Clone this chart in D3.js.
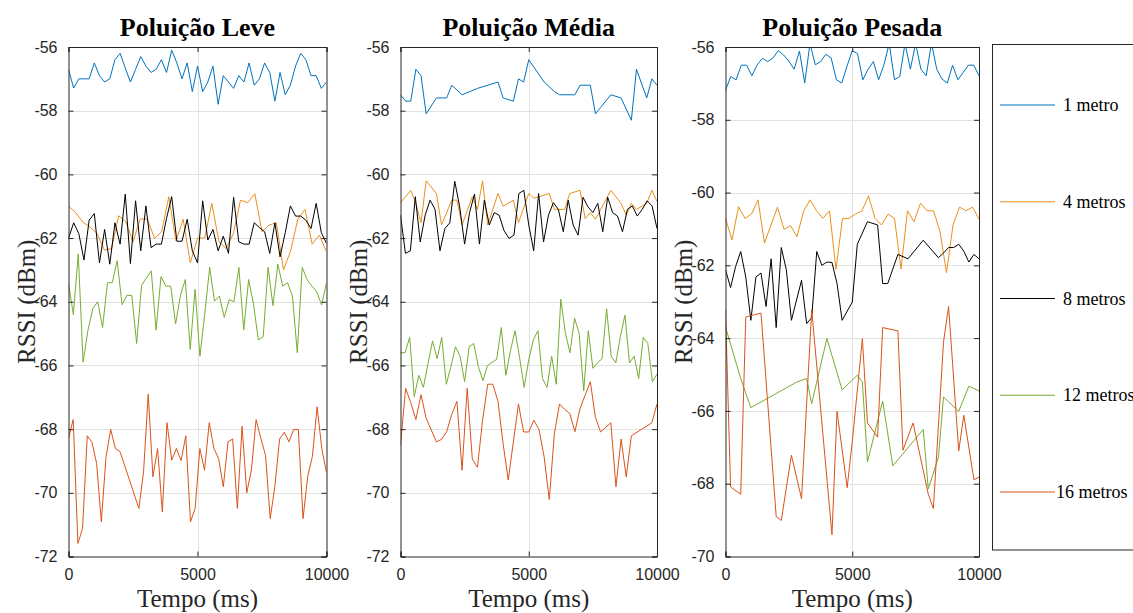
<!DOCTYPE html>
<html>
<head>
<meta charset="utf-8">
<script src="https://cdn.jsdelivr.net/npm/d3@7"></script>
<style>
  html, body { margin: 0; padding: 0; background: #fff; }
  svg { display: block; }
</style>
</head>
<body>
<svg id="chart" width="1133" height="613"></svg>
<script>
// ---------------- DATA ----------------
const TITLES = ["Poluição Leve", "Poluição Média", "Poluição Pesada"];
const SERIES_NAMES = ["1 metro", "4 metros", "8 metros", "12 metros", "16 metros"];
const SERIES_COLORS = ["#0072BD", "#EB8F1C", "#000000", "#77AC30", "#D95319"];
const X_TICKS = [0, 5000, 10000];
const X_DOMAIN = [0, 10000];
const Y_TICKS_LEVE = [-72, -70, -68, -66, -64, -62, -60, -58, -56];
const Y_TICKS_MEDIA = [-72, -70, -68, -66, -64, -62, -60, -58, -56];
const Y_TICKS_PESADA = [-70, -68, -66, -64, -62, -60, -58, -56];
const X_LABEL = "Tempo (ms)";
const Y_LABEL = "RSSI (dBm)";

// Samples are evenly spaced over 0–10000 ms; null = no sample drawn at that slot
const leve_1m = [-56.71,-57.29,-57.0,-57.0,-57.0,-56.5,-56.9,-57.1,-57.0,-56.4,-56.2,-56.66,-57.1,-56.7,-56.3,-56.6,-56.8,-56.7,-56.4,-56.8,-56.1,-56.5,-57.0,-56.5,-57.4,-56.6,-57.4,-57.1,-56.6,-57.8,-56.9,-57.1,-57.3,-56.9,-57.1,-56.5,-57.2,-57.0,-56.5,-56.8,-57.7,-56.8,-57.5,-57.2,-56.6,-56.2,-56.4,-56.9,-56.9,-57.3,-57.1];
const leve_4m = [-61.0,-61.2,-61.5,-61.65,-61.86,-62.38,-62.33,-61.3,-61.49,-62.12,-61.4,-61.4,-62.01,-61.8,-60.7,-62.09,-61.41,-62.78,-62.0,-62.0,-60.91,-62.12,-62.33,-61.86,-60.81,-60.89,-60.61,-61.8,-61.59,-61.52,-63.0,-62.4,-61.4,-61.1,-62.19,-61.91,-62.43];
const leve_8m = [-62.01,-61.52,-61.86,-62.69,-61.44,-61.23,-62.78,-61.73,-62.82,-61.52,-62.19,-60.62,-62.8,-60.83,-62.40,-60.99,-62.30,-62.19,-62.19,-61.38,-60.70,-62.10,-62.10,-61.41,-62.40,-62.78,-60.83,-62.06,-61.73,-62.40,-61.94,-62.48,-60.72,-62.12,-62.19,-62.19,-61.52,-61.67,-61.80,-62.48,-61.52,-62.59,-61.83,-60.99,-61.31,-61.31,-61.44,-61.70,-60.91,-61.83,-62.17];
const leve_12m = [-63.42,-64.40,-62.50,-65.90,-64.89,-64.21,-64.0,-64.81,-63.40,-63.40,-62.71,-64.09,-63.80,-63.80,-65.31,-63.49,-63.25,-63.03,-64.89,-63.21,-63.51,-63.51,-64.70,-63.79,-63.30,-65.50,-63.61,-65.71,-64.37,-62.92,-63.98,-63.82,-64.49,-63.93,-64.0,-62.92,-64.89,-63.30,-64.07,-65.20,-65.10,-62.92,-64.12,-62.82,-63.51,-63.40,-63.82,-65.60,-62.92,-63.30,-63.51,-63.69,-64.10,-63.40];
const leve_16m = [-68.29,-67.70,-71.59,-71.12,-68.21,-68.42,-69.08,-70.91,-68.87,-68.01,-68.61,-68.71,null,null,null,-70.49,-69.34,-66.90,-69.50,-68.61,-70.60,-67.80,-68.97,-68.61,-68.99,-68.21,-70.91,-70.49,-68.61,-69.29,-67.80,-68.61,-68.92,-69.81,-68.40,-68.31,-70.49,-67.91,-70.0,-69.27,-67.70,-68.29,-68.82,-70.81,-69.79,-68.31,-68.10,-68.40,-68.01,-68.01,-70.81,-69.48,-68.85,-67.30,-68.61,-69.37];

const media_1m = [-57.5,-57.7,-57.7,-56.7,-56.9,-58.1,null,-57.6,null,-57.6,-57.2,null,-57.5,null,null,-57.3,null,null,null,-57.1,-57.6,null,-57.7,-57.0,-57.1,-56.4,null,null,-57.1,null,-57.4,-57.5,null,null,-57.5,-57.2,null,-57.2,-58.1,-57.9,null,-57.5,null,-57.6,null,-58.3,-56.7,null,-57.6,-57.0,-57.2];
const media_4m = [-60.89,-60.70,-60.50,-60.91,-61.52,-60.20,null,-60.60,-61.59,null,-60.81,-60.81,-61.59,null,-60.70,-61.10,-60.20,-61.59,null,-60.60,-61.00,null,-60.81,-61.52,null,-60.60,-60.75,null,null,-60.60,-61.10,null,-61.10,-60.60,null,-60.50,-61.39,-61.20,-61.41,null,null,-60.50,null,-60.91,-61.28,-60.91,-61.10,null,-60.91,-60.50,-60.85];
const media_8m = [-61.28,-62.48,-62.40,-60.70,-62.12,-61.28,-60.81,-61.10,-62.40,-61.70,-61.52,-60.22,-61.02,-62.19,-61.20,-60.62,-62.19,-60.81,-61.59,-61.20,-61.28,-61.77,-62.01,-61.91,-60.60,-60.50,-61.59,-62.40,-60.60,-62.12,-61.28,-60.89,-61.10,-61.80,-60.81,-61.59,-61.91,-60.72,-61.02,-61.20,-60.91,-61.80,-60.72,-61.20,-61.31,-61.80,-61.10,-60.99,-61.31,-61.10,-60.83,-60.99,-61.70];
const media_12m = [-65.60,-65.60,-65.12,-66.98,-66.31,-66.69,-65.94,-65.23,-65.79,-65.12,-66.59,-66.04,-65.41,-65.71,-66.51,-65.41,-65.31,-66.04,-66.48,-66.0,-65.90,-65.81,-64.81,-66.31,-65.54,-64.91,-65.75,-66.69,-65.81,-65.20,-64.91,-66.41,-66.69,-65.71,-66.59,-63.92,-64.99,-65.60,-64.52,-64.99,-66.80,-64.91,-66.09,-65.92,-65.79,-64.22,-65.71,-65.92,-65.10,-64.42,-65.92,-65.71,-66.41,-65.12,-65.31,-66.51,-66.27];
const media_16m = [-68.50,-66.72,-67.17,-67.70,-66.92,-67.66,null,-68.40,-68.32,-68.08,-67.53,-67.13,-69.29,-66.72,-68.94,-69.20,-67.72,-66.59,-66.59,-67.13,-68.45,-69.60,null,-67.21,-68.09,-68.09,-67.72,-68.01,-68.87,-70.21,-68.14,-67.21,-67.38,-67.51,-68.08,-67.35,null,-66.51,-67.63,-68.09,null,-67.80,-69.81,-68.31,-69.50,-68.21,null,null,null,-67.80,-67.21];

const pesada_1m = [-57.19,-56.81,-56.90,-56.50,-56.50,-56.79,-56.49,-56.31,-56.40,-56.30,-56.10,-56.22,-56.39,-56.61,-56.11,-56.99,-55.9,-56.49,-56.40,-56.20,-56.30,-56.90,-56.99,-56.53,-56.10,-56.18,-56.90,-56.61,-56.40,-56.90,-56.49,-55.9,-56.90,-56.81,-55.9,-56.61,-55.9,-56.61,-56.79,-55.9,-56.61,-56.88,-56.99,-56.50,-56.90,-56.70,-56.50,-56.50,-56.79];
const pesada_4m = [-60.71,-61.30,-60.39,-60.71,-60.59,-60.20,-61.39,-60.89,-60.40,-61.01,-60.91,-61.21,-60.52,-60.20,-60.50,-60.71,-60.50,-62.11,-60.71,-60.71,-60.59,-60.50,-60.09,-60.71,-60.89,-60.59,-60.71,-62.10,-60.50,-60.80,-60.29,-60.50,-60.50,-61.07,-62.20,-60.89,-60.40,-60.50,-60.40,-60.73];
const pesada_8m = [-62.12,-62.61,-62.03,-61.62,-62.32,-63.51,-62.32,-62.21,-63.13,-61.82,-63.71,-61.51,-62.12,-63.51,null,-62.41,-63.60,-63.44,-61.62,-62.0,-61.91,-61.92,-62.50,-63.51,null,-63.01,-61.42,null,-60.80,null,-60.89,-62.50,-62.50,null,-61.70,null,-61.82,null,null,-61.31,null,null,-61.79,-61.66,-61.51,-61.51,-61.42,-61.61,-61.91,-61.70,-61.82];
const pesada_12m = [-63.69,null,null,-65.11,null,-65.91,null,null,null,null,null,null,null,null,-65.21,null,-65.11,-65.80,null,null,-64.01,null,null,-65.42,null,null,-65.02,-65.21,-67.40,null,null,-65.73,null,-67.51,null,null,null,null,null,-66.51,-68.14,null,-67.27,-65.62,null,null,-66.01,null,-65.32,null,-65.45];
const pesada_16m = [-63.22,-68.09,null,-68.29,-63.42,null,null,-63.31,null,null,-68.90,-69.01,null,-67.22,null,-68.41,null,-63.22,null,null,null,-69.40,-66.01,null,-68.11,-66.85,null,-64.01,-66.33,null,-66.72,-63.71,null,null,-63.80,-67.08,null,-66.33,null,null,-68.29,-68.68,null,-64.11,-63.13,null,-67.10,-66.12,null,-67.89,-67.82];

// ---------------- LAYOUT ----------------
const svg = d3.select("#chart");
const TOP = 47, BOTTOM = 556.5;
const INK = "#262626";
const panels = [
  { title: TITLES[0], x0: 68.5,  x1: 326.5, yDomain: [-72, -56], yTicks: Y_TICKS_LEVE,   series: [leve_1m, leve_4m, leve_8m, leve_12m, leve_16m] },
  { title: TITLES[1], x0: 400.5, x1: 657,   yDomain: [-72, -56], yTicks: Y_TICKS_MEDIA,  series: [media_1m, media_4m, media_8m, media_12m, media_16m] },
  { title: TITLES[2], x0: 725.5, x1: 979,   yDomain: [-70, -56], yTicks: Y_TICKS_PESADA, series: [pesada_1m, pesada_4m, pesada_8m, pesada_12m, pesada_16m] }
];

const defs = svg.append("defs");

panels.forEach((p, pi) => {
  const x = d3.scaleLinear().domain(X_DOMAIN).range([p.x0, p.x1]);
  const y = d3.scaleLinear().domain(p.yDomain).range([BOTTOM, TOP]);
  const g = svg.append("g");

  defs.append("clipPath").attr("id", "clip" + pi)
    .append("rect").attr("x", p.x0).attr("y", TOP).attr("width", p.x1 - p.x0).attr("height", BOTTOM - TOP);

  // grid
  g.append("g").selectAll("line").data(p.yTicks.filter(v => v !== p.yDomain[0] && v !== p.yDomain[1]))
    .join("line")
    .attr("x1", p.x0).attr("x2", p.x1)
    .attr("y1", d => Math.round(y(d)) + 0.5).attr("y2", d => Math.round(y(d)) + 0.5)
    .attr("stroke", "#e2e2e2").attr("stroke-width", 1);
  g.append("g").selectAll("line").data(X_TICKS.filter(v => v !== X_DOMAIN[0] && v !== X_DOMAIN[1]))
    .join("line")
    .attr("x1", d => Math.round(x(d)) + 0.5).attr("x2", d => Math.round(x(d)) + 0.5)
    .attr("y1", TOP).attr("y2", BOTTOM)
    .attr("stroke", "#e2e2e2").attr("stroke-width", 1);

  // series
  const line = d3.line().x(d => x(d.t)).y(d => y(d.v));
  const lg = g.append("g").attr("clip-path", `url(#clip${pi})`);
  p.series.forEach((vals, si) => {
    const n = vals.length;
    const pts = vals.map((v, i) => ({ t: X_DOMAIN[0] + i * (X_DOMAIN[1] - X_DOMAIN[0]) / (n - 1), v }))
                    .filter(d => d.v !== null);
    lg.append("path").datum(pts)
      .attr("d", line)
      .attr("fill", "none")
      .attr("stroke", SERIES_COLORS[si])
      .attr("stroke-width", 1)
      .attr("stroke-linejoin", "miter");
  });

  // axes (box with inward ticks)
  const axL = g.append("g").attr("transform", `translate(${p.x0},0)`)
    .call(d3.axisLeft(y).tickValues(p.yTicks).tickSize(-5).tickPadding(11).tickFormat(d3.format("d")));
  const axR = g.append("g").attr("transform", `translate(${p.x1},0)`)
    .call(d3.axisRight(y).tickValues(p.yTicks).tickSize(-5).tickFormat(""));
  const axB = g.append("g").attr("transform", `translate(0,${BOTTOM})`)
    .call(d3.axisBottom(x).tickValues(X_TICKS).tickSize(-5).tickPadding(12).tickFormat(d3.format("d")));
  const axT = g.append("g").attr("transform", `translate(0,${TOP})`)
    .call(d3.axisTop(x).tickValues(X_TICKS).tickSize(-5).tickFormat(""));
  [axL, axR, axB, axT].forEach(a => {
    a.select(".domain").attr("stroke", INK).attr("stroke-width", 1);
    a.selectAll(".tick line").attr("stroke", INK).attr("stroke-width", 1);
    a.selectAll(".tick text").attr("fill", INK)
      .style("font-family", "'Liberation Sans', Arial, sans-serif").style("font-size", "16px");
  });
  axL.selectAll(".tick text").text(d => d3.format("d")(d).replace("−", "-"));

  // title
  svg.append("text")
    .attr("x", (p.x0 + p.x1) / 2).attr("y", 36)
    .attr("text-anchor", "middle")
    .style("font-family", "'Liberation Serif', 'Times New Roman', serif")
    .style("font-weight", "bold").style("font-size", "26px")
    .attr("fill", "#000")
    .text(p.title);

  // x label
  svg.append("text")
    .attr("x", (p.x0 + p.x1) / 2).attr("y", 607)
    .attr("text-anchor", "middle")
    .style("font-family", "'Liberation Serif', 'Times New Roman', serif")
    .style("font-size", "25px").attr("fill", INK)
    .text(X_LABEL);

  // y label
  svg.append("text")
    .attr("transform", `translate(${p.x0 - 34},${(TOP + BOTTOM) / 2}) rotate(-90)`)
    .attr("text-anchor", "middle")
    .style("font-family", "'Liberation Serif', 'Times New Roman', serif")
    .style("font-size", "25px").attr("fill", INK)
    .text(Y_LABEL);
});

// ---------------- LEGEND ----------------
const legend = svg.append("g");
legend.append("rect")
  .attr("x", 992.5).attr("y", 44.5).attr("width", 200).attr("height", 505.5)
  .attr("fill", "#fff").attr("stroke", INK).attr("stroke-width", 1);
const legendY = d3.scalePoint().domain(SERIES_NAMES).range([105, 492]);
SERIES_NAMES.forEach((name, i) => {
  const yy = legendY(name);
  legend.append("line")
    .attr("x1", 1000).attr("x2", 1055).attr("y1", yy).attr("y2", yy)
    .attr("stroke", SERIES_COLORS[i]).attr("stroke-width", 1);
  legend.append("text")
    .attr("x", name === "16 metros" ? 1056 : 1063).attr("y", yy + 6)
    .style("font-family", "'Liberation Serif', 'Times New Roman', serif")
    .style("font-size", "18px").attr("fill", "#000")
    .text(name);
});
</script>
</body>
</html>
